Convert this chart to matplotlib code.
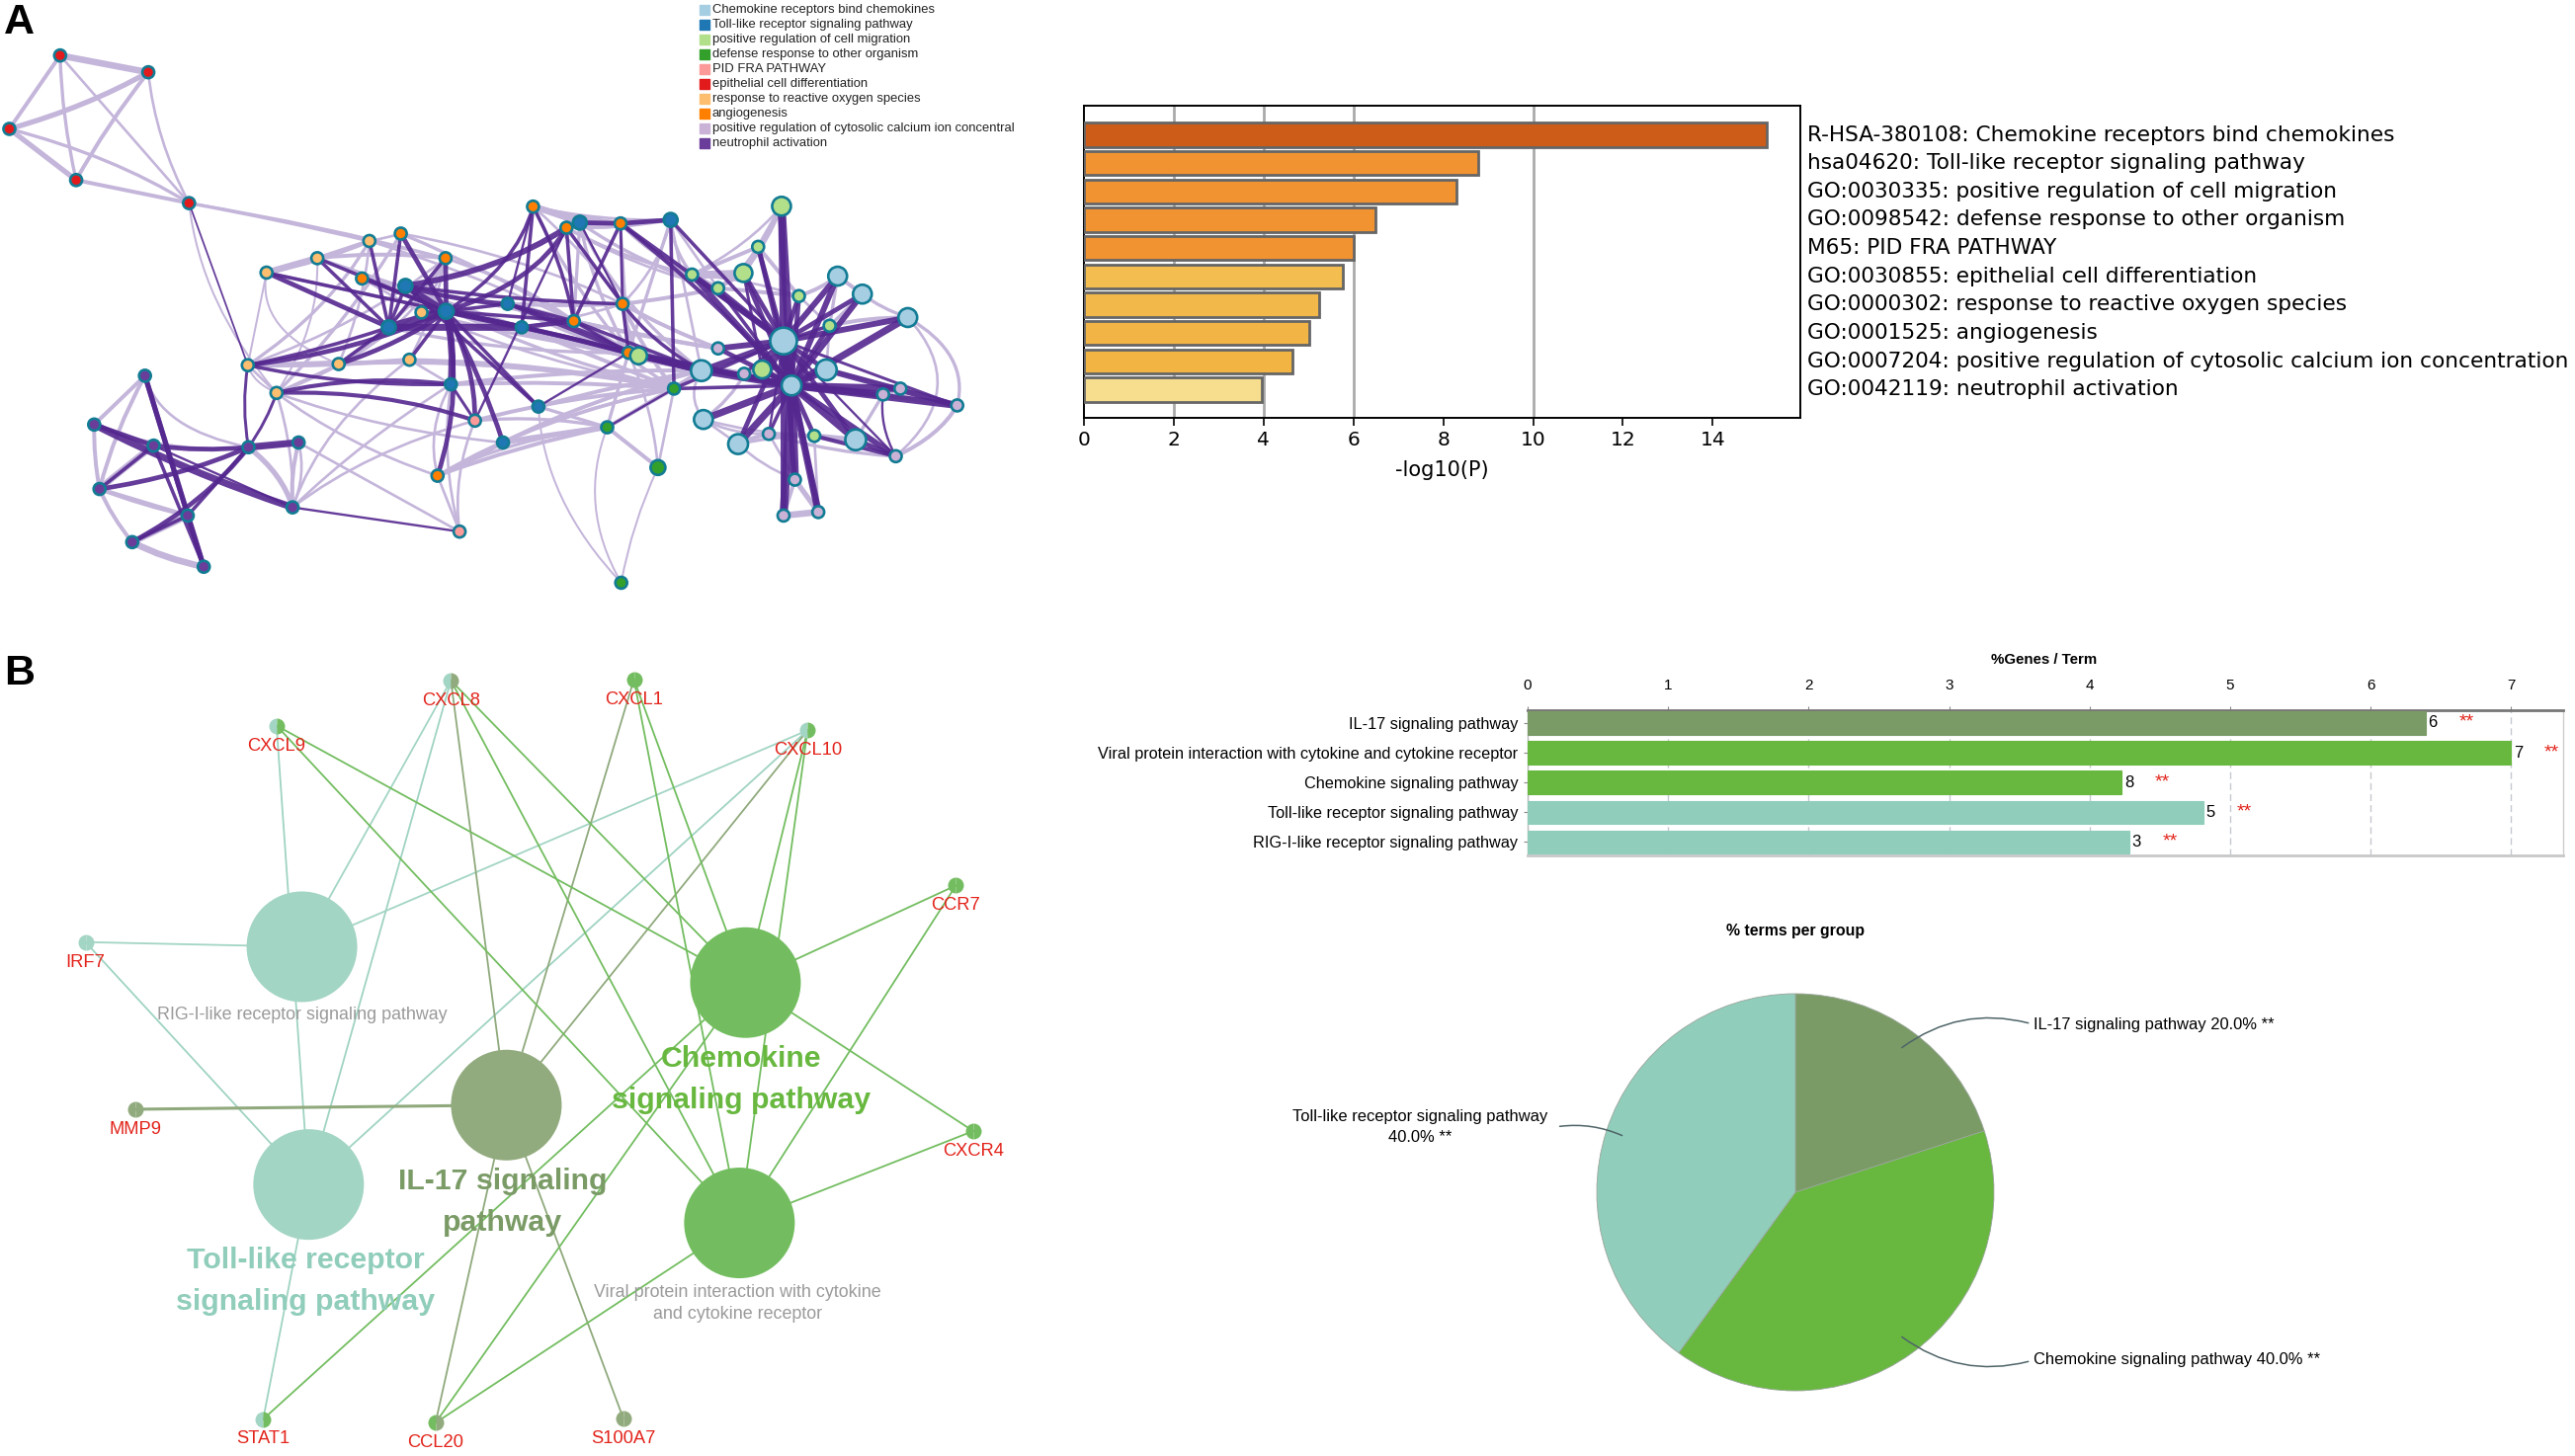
import matplotlib
matplotlib.use('Agg')
from matplotlib import pyplot as plt
from matplotlib.path import Path
from matplotlib.patches import PathPatch

W, H = 2606, 1474

# ---- panel A network: positions
group_colors = ['#a6cee3', '#1f78b4', '#b2df8a', '#33a02c', '#fb9a99', '#e31a1c',
                '#fdbf6f', '#ff7f00', '#cab2d6', '#6a3d9a']
group_names = ['Chemokine receptors bind chemokines', 'Toll-like receptor signaling pathway',
               'positive regulation of cell migration', 'defense response to other organism',
               'PID FRA PATHWAY', 'epithelial cell differentiation',
               'response to reactive oxygen species', 'angiogenesis',
               'positive regulation of cytosolic calcium ion concentral', 'neutrophil activation']
node_x = [90, 222, 14, 114, 283,
          553, 475, 399, 631, 507, 613, 371, 414,
          600, 667, 542, 798, 848, 929, 932, 859, 941, 655,
          868, 1004, 607, 760, 668, 582, 781, 675, 806, 753,
          1170, 1135, 1036, 1113, 1075, 1196, 1242, 956, 1141, 1219,
          1009, 909, 985, 930,
          711, 688,
          1173, 1254, 1291, 1359, 1237, 1050, 1185, 1053, 1105, 1281,
          1075, 1114, 1322, 1348, 1433, 1151, 1341, 1190, 1173, 1225,
          217, 141, 230, 149, 281, 198, 305, 372, 447, 438]
node_y = [142, 185, 330, 461, 520,
          617, 661, 698, 800, 932, 921, 935, 1006,
          598, 661, 713, 529, 583, 572, 778, 822, 903, 1218,
          570, 563, 732, 778, 797, 838, 838, 984, 1041, 1133,
          528, 632, 703, 699, 738, 758, 834, 911, 946, 1116,
          995, 1094, 1197, 1492,
          1077, 1361,
          873, 707, 753, 813, 947, 949, 987, 1074, 1137, 1126,
          892, 957, 1010, 995, 1038, 1111, 1168, 1228, 1320, 1311,
          962, 1087, 1141, 1252, 1320, 1388, 1451, 1145, 1133, 1299]
node_group = [5] * 5 + [6] * 8 + [7] * 10 + [1] * 10 + [2] * 10 + [3] * 4 + [4] * 2 + [0] * 10 + [8] * 10 + [9] * 10
big_nodes = {49: 27, 55: 20, 53: 21, 54: 21, 50: 19, 51: 19, 52: 19, 56: 19, 57: 20, 58: 21,
             33: 19, 36: 18, 41: 18, 40: 17, 45: 15, 27: 15, 28: 14, 25: 14, 23: 14, 24: 14}

# (from, to, width, bend)
edges_light = [
    (0, 1, 5, 0), (0, 2, 3, 0), (0, 3, 2.5, .03), (2, 1, 4, .08), (1, 3, 3, .03), (2, 3, 4, 0),
    (2, 4, 2.5, -.1), (0, 4, 2, 0), (1, 4, 2, .06), (3, 4, 3, 0),
    (4, 5, 2.5, -.02), (4, 14, 2, -.04), (4, 12, 1.5, .1), (6, 7, 5, 0), (7, 5, 3, .08), (6, 5, 3, 0),
    (6, 14, 3, -.1), (5, 14, 2, 0), (5, 13, 2, .05), (7, 9, 1.5, .3), (7, 11, 1.5, 0), (11, 12, 2, 0),
    (11, 10, 3, .05), (9, 10, 3, 0), (9, 14, 2, .1), (10, 14, 2, .05), (12, 14, 2, .2), (12, 9, 2, 0),
    (8, 15, 2, 0), (8, 25, 2, 0), (8, 9, 2, 0), (8, 14, 2, .05), (15, 29, 2, 0), (10, 30, 2, 0),
    (16, 23, 5, -.04), (23, 18, 5, 0), (16, 18, 3, .04), (17, 18, 3, 0), (17, 24, 2, .1), (16, 24, 2, .1),
    (18, 24, 3, 0), (23, 54, 2.5, .1), (17, 37, 2, .1), (18, 35, 2, .1), (24, 35, 2.5, .1),
    (24, 19, 2, -.1), (23, 20, 2.5, 0), (16, 19, 2, -.05), (20, 26, 3, .04), (26, 19, 3, .04),
    (29, 19, 2, .06), (29, 21, 3, .06), (26, 54, 3, .1), (19, 37, 3, .04), (35, 37, 4, .05), (35, 36, 6, .05),
    (36, 34, 4, 0), (34, 33, 3, 0), (35, 33, 2, .1), (36, 33, 3, .05), (37, 36, 3, 0), (37, 38, 3, -.02),
    (35, 38, 2, -.1), (50, 51, 3, 0), (51, 52, 2.5, .1), (38, 50, 3, .1), (39, 53, 2, 0), (52, 63, 2.5, -.25),
    (52, 65, 2, -.3), (53, 62, 2.5, 0), (61, 62, 3, 0), (61, 63, 4, 0), (62, 63, 4, 0), (63, 65, 3, -.15),
    (42, 58, 4, .0), (58, 61, 2.5, 0), (57, 64, 3, -.1), (64, 42, 3, 0), (56, 57, 2, 0), (56, 64, 2, .2),
    (57, 42, 2.5, -.1), (66, 67, 3, 0), (67, 68, 5, 0), (66, 68, 4, 0), (54, 56, 2, .2), (60, 41, 2.5, 0),
    (30, 22, 2, .12), (22, 32, 2.5, .05), (22, 44, 3, -.06), (22, 44, 2.5, -.14), (32, 44, 4, -.02),
    (47, 44, 2.5, -.12), (32, 43, 2.5, -.08), (22, 43, 2.5, -.12), (31, 44, 2.5, 0), (44, 43, 3, 0),
    (44, 45, 3, 0), (45, 43, 2, 0), (44, 21, 2.5, 0), (45, 21, 2, .05), (44, 54, 2.5, 0), (44, 46, 1.5, .14),
    (46, 45, 1.5, -.04), (31, 46, 1.5, .12), (47, 48, 2, .08), (30, 48, 2, .06), (22, 48, 2, 0),
    (12, 22, 2, .1), (12, 32, 2, .1), (11, 12, 1.5, .2),
    (69, 70, 3, 0), (70, 72, 3, .03), (72, 74, 3, .05), (74, 75, 5, .1), (72, 73, 3, 0), (74, 73, 5, 0),
    (70, 71, 3, 0), (71, 72, 5, .02), (69, 72, 3, .04), (72, 73, 3, .05), (76, 77, 3, .05), (77, 78, 3, .05),
    (76, 78, 4, -.12), (78, 77, 2, .1), (78, 30, 2, -.05), (78, 47, 2, -.12), (78, 10, 2, -.12),
    (70, 76, 2, .2), (69, 76, 2, .3), (78, 12, 2, .05), (77, 48, 2, 0),
    (19, 40, 3, .05), (20, 40, 3, 0), (29, 43, 3, 0), (20, 43, 2.5, 0), (19, 43, 3, .05), (23, 37, 2.5, .1),
    (18, 37, 3, .1), (17, 35, 2.5, .1), (16, 21, 2.5, .05), (23, 21, 2.5, .05), (18, 21, 2, 0), (24, 21, 2.5, 0),
    (24, 37, 2, 0), (24, 54, 2, 0), (19, 59, 3, .05), (20, 59, 3, .02), (26, 59, 3, .05), (29, 60, 3, .02),
    (40, 60, 4, .02), (21, 60, 4, .03), (29, 54, 3, .03), (27, 54, 3, .04), (30, 54, 3, -.06), (31, 54, 3, -.04),
    (30, 43, 3, -.05), (47, 43, 3, -.08), (32, 54, 3, -.08), (10, 43, 2.5, -.08), (9, 43, 2.5, -.1),
    (11, 43, 2, -.1), (25, 43, 2.5, .1), (25, 54, 2, .1), (8, 43, 2, .08), (8, 21, 2.5, .05), (15, 21, 2.5, .05),
    (28, 21, 2.5, .1), (14, 20, 2.5, -.1), (13, 19, 2, -.1), (13, 20, 2.5, -.05), (5, 20, 2, -.05), (6, 29, 2.5, 0),
    (7, 29, 2.5, 0), (15, 20, 2.5, 0), (11, 14, 2, .1), (9, 5, 2, .05), (11, 5, 2.5, .1), (12, 13, 2.5, .05),
    (12, 6, 1.5, .1), (56, 60, 2.5, .1), (56, 42, 2, .1), (64, 65, 2.5, .1), (64, 66, 2, 0), (42, 68, 2, 0),
    (57, 66, 2, .1), (38, 39, 2, 0), (39, 52, 3, -.1), (50, 39, 2.5, 0), (51, 39, 2.5, 0), (34, 38, 3, 0),
    (35, 34, 3, 0), (37, 34, 3, .1),
]
edges_dark = [
    (49, 55, 8, 0), (55, 33, 7, 0), (49, 33, 6, 0), (49, 34, 4, 0), (55, 34, 4, 0), (49, 36, 4, 0),
    (55, 36, 4, 0), (49, 38, 4, 0), (55, 38, 4, 0), (49, 50, 5, 0), (55, 50, 5, 0), (49, 51, 4, 0),
    (55, 51, 5, 0), (49, 52, 5, 0), (55, 52, 6, 0), (49, 39, 3, 0), (55, 39, 4, 0), (55, 53, 6, 0),
    (49, 53, 4, 0), (55, 54, 6, 0), (49, 54, 5, 0), (55, 41, 5, 0), (49, 41, 4, 0), (55, 60, 3, 0),
    (49, 60, 3, 0), (55, 59, 4, 0), (49, 59, 5, 0), (55, 56, 6, 0), (55, 57, 6, 0), (49, 57, 4, 0),
    (55, 58, 6, 0), (49, 58, 4, 0), (55, 61, 6, 0), (55, 62, 6, 0), (55, 63, 6, 0), (53, 63, 5, 0),
    (49, 63, 2.5, 0), (55, 64, 3, 0), (49, 64, 2, 0), (55, 42, 4, 0), (55, 65, 5, 0), (49, 65, 2, 0),
    (55, 66, 7, 0), (49, 66, 4, 0), (55, 67, 7, 0), (55, 68, 6, 0), (49, 67, 5, 0), (49, 68, 4, 0),
    (58, 65, 4, 0), (42, 65, 3.5, 0), (61, 65, 2, .1), (54, 40, 5, 0), (54, 21, 5, 0), (40, 21, 3, 0),
    (35, 55, 5, 0), (35, 49, 5, 0), (37, 55, 3, 0), (37, 49, 3, 0), (36, 41, 2.5, 0),
    (28, 27, 7, 0), (28, 29, 6, 0), (27, 29, 5, 0), (27, 26, 3, 0), (25, 27, 5, 0), (25, 26, 4, .1),
    (27, 20, 3, 0), (29, 20, 4, 0), (26, 20, 3, 0), (25, 19, 3, .05), (25, 28, 3, 0), (8, 27, 3, 0),
    (10, 27, 3, 0), (9, 27, 4, .1), (9, 28, 3, 0), (11, 27, 4, .12), (11, 28, 3, .05),
    (27, 30, 6, -.05), (27, 47, 4, -.08), (27, 32, 4, -.03), (27, 22, 4, -.08), (27, 31, 3, 0),
    (25, 31, 3, 0), (13, 27, 4, 0), (14, 27, 4, 0), (15, 27, 3, 0), (13, 28, 3, 0), (5, 28, 3, 0),
    (14, 28, 3, 0), (6, 28, 3, 0), (7, 28, 4, 0), (6, 27, 3, 0), (7, 27, 3, 0), (16, 27, 3, -.15),
    (17, 25, 5, -.15), (16, 26, 2, 0), (16, 29, 3, 0), (17, 27, 4, -.2), (17, 20, 3, 0), (17, 19, 3, 0),
    (23, 19, 2, 0), (16, 20, 3, -.05), (18, 20, 3, 0), (18, 23, 4, 0), (18, 24, 4, 0), (18, 19, 2.5, 0),
    (18, 55, 3.5, -.04), (18, 49, 3.5, 0), (24, 43, 3, 0), (24, 49, 3, 0), (19, 21, 3, 0), (19, 54, 3, .1),
    (20, 54, 3, 0), (20, 21, 2.5, 0), (26, 21, 3, 0), (26, 40, 3, -.05), (29, 40, 4, -.03), (27, 40, 4, -.03),
    (40, 55, 5, 0), (21, 55, 5, 0), (43, 55, 3, 0), (43, 49, 3, 0), (44, 43, 2, 0), (31, 21, 2, 0),
    (11, 76, 2.5, .05), (12, 76, 2.5, -.05), (11, 30, 3, .1), (12, 30, 3.5, -.15), (12, 47, 3.5, -.15),
    (30, 47, 2.5, 0), (47, 17, 2, 0), (4, 11, 1.5, 0), (78, 48, 2, 0), (76, 77, 6, 0), (71, 76, 4, .1),
    (70, 78, 6, .05), (72, 76, 4, .1), (74, 76, 4, .1), (69, 73, 4, 0), (69, 75, 4.5, 0), (71, 75, 3, 0),
    (70, 71, 4, 0), (72, 71, 3, 0), (73, 75, 4, 0), (74, 73, 3, 0), (76, 73, 3, 0), (78, 71, 2, 0),
]

# ---- panel A bars
enrich_labels = ['R-HSA-380108: Chemokine receptors bind chemokines',
                 'hsa04620: Toll-like receptor signaling pathway',
                 'GO:0030335: positive regulation of cell migration',
                 'GO:0098542: defense response to other organism',
                 'M65: PID FRA PATHWAY',
                 'GO:0030855: epithelial cell differentiation',
                 'GO:0000302: response to reactive oxygen species',
                 'GO:0001525: angiogenesis',
                 'GO:0007204: positive regulation of cytosolic calcium ion concentration',
                 'GO:0042119: neutrophil activation']
enrich_values = [15.2, 8.77, 8.29, 6.49, 6.01, 5.77, 5.23, 5.01, 4.65, 3.95]
enrich_colors = ['#cc5c17', '#f29331', '#f29331', '#f29331', '#f29331',
                 '#f3bd50', '#f2b84a', '#f2b545', '#f2b544', '#f7de8f']

# ---- panel B network
term_names = ['RIG', 'Toll', 'IL17', 'Chemokine', 'Viral']
term_x = [452, 462, 758, 1116, 1107]
term_y = [587, 1045, 892, 656, 1119]
term_colors = ['#a3d5c4', '#a3d5c4', '#92ab7e', '#73bd60', '#73bd60']
edge_colors = ['#a3d5c4', '#9fd3c2', '#8fa97c', '#73bd60', '#73bd60']
gene_names = ['CXCL8', 'CXCL1', 'CXCL9', 'CXCL10', 'CCR7', 'IRF7', 'MMP9', 'CXCR4', 'STAT1', 'CCL20', 'S100A7']
gene_x = [675, 949, 414, 1209, 1431, 128, 203, 1457, 394, 652, 933]
gene_y = [74, 72, 161, 170, 469, 578, 900, 942, 1497, 1504, 1495]
gene_label_y = [114, 111, 201, 208, 508, 618, 939, 981, 1535, 1543, 1534]
gene_left = ['#a3d5c4', '#73bd60', '#a3d5c4', '#a3d5c4', '#73bd60', '#a3d5c4', '#92ab7e', '#73bd60', '#a3d5c4', '#73bd60', '#92ab7e']
gene_right = ['#92ab7e', '#73bd60', '#73bd60', '#73bd60', '#73bd60', '#a3d5c4', '#92ab7e', '#73bd60', '#73bd60', '#92ab7e', '#92ab7e']
term_genes = [['CXCL8', 'CXCL10', 'IRF7'],
              ['CXCL8', 'CXCL9', 'CXCL10', 'IRF7', 'STAT1'],
              ['CXCL8', 'CXCL1', 'CXCL10', 'MMP9', 'CCL20', 'S100A7'],
              ['CXCL8', 'CXCL1', 'CXCL9', 'CXCL10', 'CCR7', 'CXCR4', 'STAT1', 'CCL20'],
              ['CXCL8', 'CXCL1', 'CXCL9', 'CXCL10', 'CCR7', 'CXCR4', 'CCL20']]

# ---- panel B bars and pie
kegg_labels = ['IL-17 signaling pathway', 'Viral protein interaction with cytokine and cytokine receptor',
               'Chemokine signaling pathway', 'Toll-like receptor signaling pathway',
               'RIG-I-like receptor signaling pathway']
kegg_values = [6.39, 7.0, 4.23, 4.81, 4.28]
kegg_counts = [6, 7, 8, 5, 3]
kegg_colors = ['#7a9b66', '#68b840', '#68b840', '#90cdbb', '#90cdbb']
pie_values = [20, 40, 40]
pie_colors = ['#7a9b66', '#68b840', '#90cdbb']


def px_axes(left, top, width, height):
    # axes placed with pixel coordinates of the picture
    return fig.add_axes([left / W, 1 - (top + height) / H, width / W, height / H])


def area(d):
    # marker area from a diameter in pixels (dpi 100)
    return (d * 0.72) ** 2


def draw_edge(ax, x0, y0, x1, y1, bend, **kw):
    cx = (x0 + x1) / 2 - bend * (y1 - y0)
    cy = (y0 + y1) / 2 + bend * (x1 - x0)
    path = Path([(x0, y0), (cx, cy), (x1, y1)], [Path.MOVETO, Path.CURVE3, Path.CURVE3])
    ax.add_patch(PathPatch(path, fill=False, capstyle='round', **kw))


plt.rcParams['font.family'] = ['Liberation Sans', 'DejaVu Sans']
fig = plt.figure(figsize=(W / 100, H / 100), dpi=100, facecolor='white')

# ---------- network A
ax_a = px_axes(0, 0, 1060, 620)
ax_a.set_xlim(0, 1568)
ax_a.set_ylim(1568, 0)
ax_a.axis('off')
for i, j, w, b in edges_light:
    draw_edge(ax_a, node_x[i], node_y[i], node_x[j], node_y[j], b, lw=w * 0.95, color='#c4b5da', zorder=1)
for i, j, w, b in edges_dark:
    draw_edge(ax_a, node_x[i], node_y[i], node_x[j], node_y[j], b, lw=w * 0.85, color='#54278f', alpha=0.9, zorder=2)
sizes = [area(big_nodes.get(k, 12)) for k in range(len(node_x))]
ax_a.scatter(node_x, node_y, s=sizes, c=[group_colors[g] for g in node_group],
             edgecolors='#127c94', linewidths=1.9, zorder=3)
for k, name in enumerate(group_names):
    y = 26 + k * 37.8
    ax_a.scatter([1054], [y], s=area(10.5), marker='s', color=group_colors[k], zorder=3)
    ax_a.text(1066, y, name, fontsize=9.4, va='center', ha='left', color='#222222')
ax_a.text(6, 58, 'A', fontsize=31, fontweight='bold', va='center', ha='left', color='black')

# ---------- bars A
ax_bar = px_axes(1097, 107, 725, 316)
ypos = list(range(len(enrich_values)))
ax_bar.barh(ypos, enrich_values, height=0.85, color=enrich_colors, edgecolor='#666666', linewidth=2, zorder=3)
ax_bar.set_xlim(0, 15.95)
ax_bar.set_ylim(10.0, -1.03)
for g in [2, 4, 6, 10]:
    ax_bar.axvline(g, color='#aaaaaa', lw=2, zorder=1)
ax_bar.set_yticks([])
ax_bar.set_xticks(range(0, 15, 2))
ax_bar.tick_params(axis='x', labelsize=14.5, length=6, width=1.2)
for lab in ax_bar.get_xticklabels():
    lab.set_family('DejaVu Sans')
ax_bar.set_xlabel('-log10(P)', fontsize=15, family='DejaVu Sans', labelpad=8)
for s in ax_bar.spines.values():
    s.set_linewidth(1.4)
for y, lab in zip(ypos, enrich_labels):
    ax_bar.text(16.1, y, lab, fontsize=15.6, family='DejaVu Sans', va='center', ha='left', clip_on=False)

# ---------- network B
ax_b = px_axes(0, 650, 1060, 824)
ax_b.set_xlim(0, 1568)
ax_b.set_ylim(1568, 0)
ax_b.axis('off')
for t, genes in enumerate(term_genes):
    for g in genes:
        k = gene_names.index(g)
        ax_b.plot([term_x[t], gene_x[k]], [term_y[t], gene_y[k]], color=edge_colors[t],
                  lw=2.2 if g == 'MMP9' else 1.3, zorder=1)
ax_b.scatter(term_x, term_y, s=area(112), c=term_colors, edgecolors='none', zorder=2)
for k, name in enumerate(gene_names):
    ax_b.plot([gene_x[k]], [gene_y[k]], 'o', ms=16 * 0.72, fillstyle='left', mfc=gene_left[k],
              mfcalt=gene_right[k], mec='none', zorder=3)
    ax_b.text(gene_x[k], gene_label_y[k], name, color='#e2231a', fontsize=13.2, ha='center', va='center', zorder=4)
ax_b.text(452, 719, 'RIG-I-like receptor signaling pathway', color='#9a9a9a', fontsize=12.9,
          ha='center', va='center', zorder=4)
ax_b.text(1104, 1274, 'Viral protein interaction with cytokine\nand cytokine receptor', color='#9a9a9a',
          fontsize=12.9, ha='center', va='center', linespacing=1.45, zorder=4)
ax_b.text(1110, 843, 'Chemokine\nsignaling pathway', color='#68b840', fontsize=21.8, fontweight='bold',
          ha='center', va='center', linespacing=1.63, zorder=4)
ax_b.text(752, 1079, 'IL-17 signaling\npathway', color='#7a9b66', fontsize=21.8, fontweight='bold',
          ha='center', va='center', linespacing=1.63, zorder=4)
ax_b.text(457, 1232, 'Toll-like receptor\nsignaling pathway', color='#90cdbb', fontsize=21.8, fontweight='bold',
          ha='center', va='center', linespacing=1.63, zorder=4)
ax_b.text(6, 60, 'B', fontsize=31, fontweight='bold', va='center', ha='left', color='black')

# ---------- bars B
ax_k = px_axes(1546, 719, 1048, 147)
ypos = list(range(len(kegg_values)))
ax_k.barh(ypos, kegg_values, height=0.78, color=kegg_colors, edgecolor=kegg_colors, linewidth=0.8, zorder=3)
ax_k.set_xlim(0, 7.37)
ax_k.set_ylim(4.45, -0.43)
ax_k.set_xticks(range(0, 8))
ax_k.xaxis.tick_top()
ax_k.tick_params(axis='x', labelsize=11, length=3, pad=10, color='#888888')
ax_k.set_yticks(ypos)
ax_k.set_yticklabels(kegg_labels, fontsize=11.7)
ax_k.tick_params(axis='y', length=3, pad=4, color='#888888')
ax_k.grid(axis='x', color='#c4c8d0', linestyle=(0, (5, 3)), lw=1, zorder=1)
ax_k.spines['top'].set(color='#777777', linewidth=2)
ax_k.spines['bottom'].set(color='#c8c8c8', linewidth=2)
ax_k.spines['left'].set(color='#bbbbbb', linewidth=1)
ax_k.spines['right'].set(color='#cccccc', linewidth=1)
for y, v, c in zip(ypos, kegg_values, kegg_counts):
    ax_k.text(v + 0.02, y, str(c), fontsize=12, ha='left', va='center', zorder=4)
    ax_k.text(v + 0.29, y - 0.02, '**', fontsize=14, color='#e2231a', ha='center', va='center', zorder=4)
fig.text(2069 / W, 1 - 668 / H, '%Genes / Term', fontsize=10.8, fontweight='bold', ha='center', va='center')

# ---------- pie
ax_p = px_axes(1817 - 201, 1207 - 201, 402, 402)
ax_p.pie(pie_values, colors=pie_colors, startangle=90, counterclock=False, radius=1,
         wedgeprops={'linewidth': 0.6, 'edgecolor': '#9aa59a'})
ax_p.set_xlim(-1, 1)
ax_p.set_ylim(-1, 1)
fig.text(1817 / W, 1 - 942 / H, '% terms per group', fontsize=11.4, fontweight='bold', ha='center', va='center')
arrow = dict(arrowstyle='-', color='#4f6468', lw=1.1)
ax_p.annotate('IL-17 signaling pathway 20.0% **', xy=(0.525, 0.72), xytext=(1.2, 0.845), fontsize=11.9,
              va='center', ha='left', annotation_clip=False,
              arrowprops=dict(arrow, connectionstyle='arc3,rad=0.25', relpos=(0, 0.5)))
ax_p.annotate('Chemokine signaling pathway 40.0% **', xy=(0.525, -0.72), xytext=(1.2, -0.845), fontsize=11.9,
              va='center', ha='left', annotation_clip=False,
              arrowprops=dict(arrow, connectionstyle='arc3,rad=-0.25', relpos=(0, 0.5)))
ax_p.annotate('', xy=(-0.86, 0.28), xytext=(-1.2, 0.33), annotation_clip=False,
              arrowprops=dict(arrow, connectionstyle='arc3,rad=-0.15'))
ax_p.text(-1.89, 0.33, 'Toll-like receptor signaling pathway\n40.0% **', fontsize=11.9, ha='center',
          va='center', linespacing=1.5, clip_on=False)

fig.savefig('out.png', dpi=100)
